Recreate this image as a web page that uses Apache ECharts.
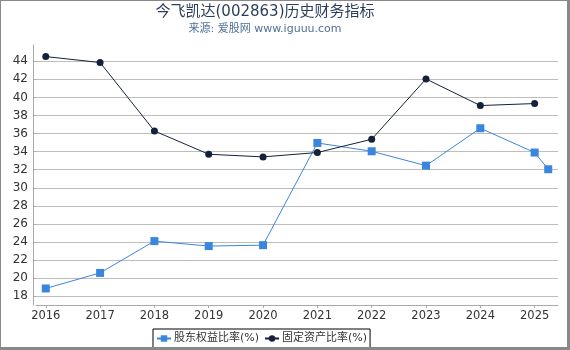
<!DOCTYPE html>
<html><head><meta charset="utf-8">
<script src="https://cdn.jsdelivr.net/npm/echarts@6/dist/echarts.min.js"></script>
<style>
html,body{margin:0;padding:0;background:#fff;}
#wrap{position:absolute;left:0;top:0;width:566px;height:346px;border-left:1px solid #888;border-top:1px solid #888;border-right:3px solid #888;border-bottom:3px solid #888;}
#c{width:566px;height:346px;}
</style></head>
<body><div id="wrap"><div id="c"></div></div>
<script>
const titleText = '今飞凯达(002863)历史财务指标';
const subText = '来源: 爱股网 www.iguuu.com';
const seriesNames = ['股东权益比率(%)', '固定资产比率(%)'];
const yearTicks = [2016, 2017, 2018, 2019, 2020, 2021, 2022, 2023, 2024, 2025];
const yTicks = [18, 20, 22, 24, 26, 28, 30, 32, 34, 36, 38, 40, 42, 44];
const equityX = [2016, 2017, 2018, 2019, 2020, 2021, 2022, 2023, 2024, 2025, 2025.25];
const equityY = [18.86, 20.58, 24.1, 23.55, 23.65, 34.96, 34.04, 32.45, 36.59, 33.9, 32.05];
const fixedX = [2016, 2017, 2018, 2019, 2020, 2021, 2022, 2023, 2024, 2025];
const fixedY = [44.52, 43.86, 36.29, 33.71, 33.42, 33.9, 35.37, 42.04, 39.1, 39.32];

const font = 'DejaVu Sans, Noto Sans CJK SC, sans-serif';
const chart = echarts.init(document.getElementById('c'), null, {renderer: 'canvas'});
chart.setOption({
  animation: false,
  textStyle: {fontFamily: font},
  title: {
    text: titleText, subtext: subText, left: 259, textAlign: 'center', top: -1, itemGap: 4,
    textStyle: {fontFamily: font, fontSize: 15, fontWeight: 'normal', color: '#2b3f5c'},
    subtextStyle: {fontFamily: font, fontSize: 11, color: '#4f6f99'}
  },
  legend: {
    bottom: -1, left: 152, itemWidth: 14, itemHeight: 8, itemGap: 5,
    borderColor: '#000', borderWidth: 1, padding: [4, 3, 4, 3],
    textStyle: {fontFamily: font, fontSize: 11, color: '#333', padding: [0, 0, 0, -2]},
    data: seriesNames
  },
  grid: {left: 35, right: 9, top: 44, bottom: 42, containLabel: false},
  xAxis: {
    type: 'value', min: 2015.82, max: 2025.43,
    axisLine: {show: true, lineStyle: {color: '#aaa'}},
    axisTick: {show: true, length: 3, customValues: yearTicks, lineStyle: {color: '#aaa'}},
    axisLabel: {customValues: yearTicks, color: '#333', fontSize: 11.5, margin: 5, formatter: v => String(v)},
    splitLine: {show: false}
  },
  yAxis: {
    type: 'value', min: 17.03, max: 45.8, offset: 3,
    axisLine: {show: true, lineStyle: {color: '#aaa'}},
    axisTick: {show: true, length: 3, inside: true, customValues: yTicks, lineStyle: {color: '#aaa'}},
    axisLabel: {customValues: yTicks, color: '#333', fontSize: 12, margin: 5},
    splitLine: {show: true, lineStyle: {color: '#bdbdbd', width: 1}}
  },
  series: [
    {
      name: seriesNames[0], type: 'line', symbol: 'rect', symbolSize: 8,
      data: equityX.map((x, i) => [x, equityY[i]]),
      itemStyle: {color: '#3a86dc'}, lineStyle: {color: '#3a86dc', width: 1}
    },
    {
      name: seriesNames[1], type: 'line', symbol: 'circle', symbolSize: 7,
      data: fixedX.map((x, i) => [x, fixedY[i]]),
      itemStyle: {color: '#13213a'}, lineStyle: {color: '#13213a', width: 1}
    }
  ]
});
</script></body></html>
